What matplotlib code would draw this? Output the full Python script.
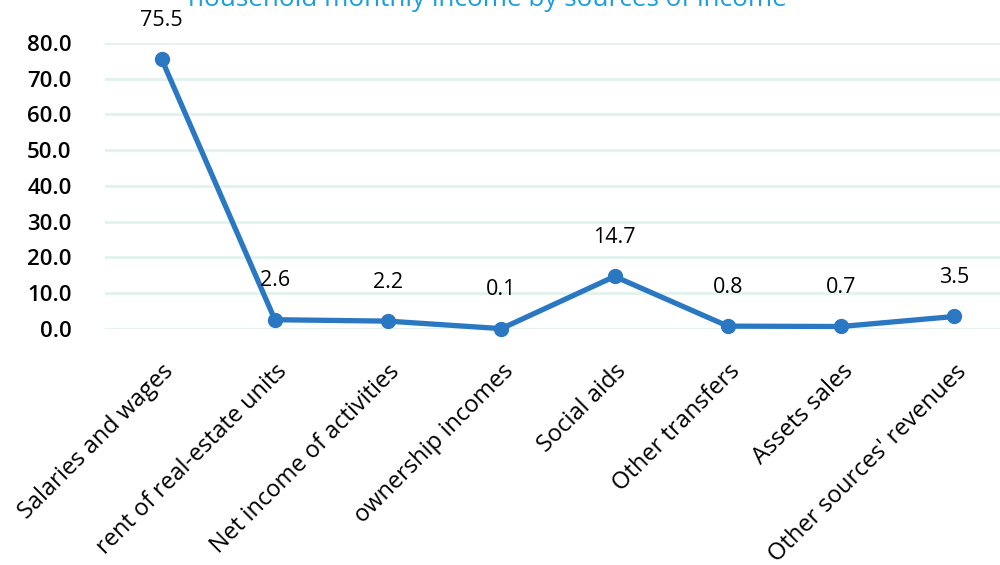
import matplotlib
matplotlib.use("Agg")
import matplotlib.pyplot as plt

# datos
categorias = ["Salaries and wages", "rent of real-estate units", "Net income of activities",
              "ownership incomes", "Social aids", "Other transfers", "Assets sales",
              "Other sources' revenues"]
valores = [75.5, 2.6, 2.2, 0.1, 14.7, 0.8, 0.7, 3.5]
yticks = [0, 10, 20, 30, 40, 50, 60, 70, 80]

plt.rcParams['font.family'] = ['Open Sans', 'DejaVu Sans']

fig = plt.figure(figsize=(10, 5.65), dpi=100)
ax = fig.add_axes([0.105, 0.4177, 0.906, 0.5062])

x = list(range(len(categorias)))
ax.plot(x, valores, color='#2b78c2', linewidth=3.8, marker='o', markersize=10,
        solid_capstyle='round', zorder=3, clip_on=False)

# etiquetas de valores
for xi, v in zip(x, valores):
    ax.annotate(f"{v:.1f}", (xi, v), xytext=(0, 28), textcoords='offset points',
                ha='center', va='center', fontsize=15.5, color='black', annotation_clip=False)

ax.set_xlim(-0.5, len(categorias) - 0.5)
ax.set_ylim(0, 80)
ax.set_yticks(yticks)
ax.set_yticklabels([f"{t:.1f}" for t in yticks], fontsize=16, fontweight='semibold')
ax.set_xticks(x)
ax.set_xticklabels(categorias, rotation=45, ha='right', rotation_mode='anchor', fontsize=17)

ax.tick_params(axis='both', length=0)
ax.tick_params(axis='x', pad=22)
ax.tick_params(axis='y', pad=24)
ax.grid(axis='y', color='#e2f2ee', linewidth=2)
ax.set_axisbelow(True)
for s in ax.spines.values():
    s.set_visible(False)

fig.text(0.487, 0.99, "household monthly income by sources of income", ha='center',
         va='baseline', fontsize=18.8, color='#1a9fdc')

fig.savefig("out.png", dpi=100)
